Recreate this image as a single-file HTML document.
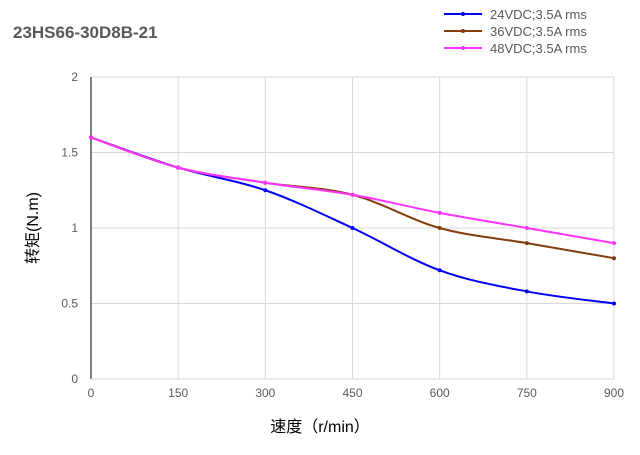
<!DOCTYPE html>
<html><head><meta charset="utf-8"><style>
body{margin:0;background:#fff;}
svg text{font-family:"Liberation Sans","Noto Sans CJK SC",sans-serif;}
</style></head><body>
<svg id="c" width="640" height="450" xmlns="http://www.w3.org/2000/svg">
<rect width="640" height="450" fill="#fff"/>
<text x="13" y="38" font-size="17" font-weight="bold" fill="#595959">23HS66-30D8B-21</text>
<g id="grid"></g><g id="series"></g><g id="legend"></g>
<text x="320" y="432" font-size="16" fill="#000" text-anchor="middle">速度（r/min）</text>
<text transform="translate(38,228) rotate(-90)" font-size="16" fill="#000" text-anchor="middle">转矩(N.m)</text>
</svg>
<script>
const categories=[0,150,300,450,600,750,900];
const yTicks=[0,0.5,1,1.5,2];
const yTickLabels=["0","0.5","1","1.5","2"];
const s24=[1.6,1.4,1.25,1.0,0.72,0.58,0.5];
const s36=[1.6,1.4,1.3,1.22,1.0,0.9,0.8];
const s48=[1.6,1.4,1.3,1.22,1.1,1.0,0.9];
const seriesNames=["24VDC;3.5A rms","36VDC;3.5A rms","48VDC;3.5A rms"];
const NS="http://www.w3.org/2000/svg";
const X0=91,X1=614,Y0=379,Y1=77;
const xs=v=>X0+(v/900)*(X1-X0);
const ys=v=>Y0-(v/2)*(Y0-Y1);
function mk(t,a,p){const e=document.createElementNS(NS,t);for(const k in a)e.setAttribute(k,a[k]);p.appendChild(e);return e;}
const g=document.getElementById('grid');
yTicks.forEach((t,i)=>{
 const l=mk('line',{x1:X0,x2:X1,y1:ys(t),y2:ys(t),stroke:'#d9d9d9','stroke-width':1},g);
 
 
 const tx=mk('text',{x:78,y:ys(t)+4,'font-size':12,fill:'#595959','text-anchor':'end'},g);
 tx.textContent=yTickLabels[i];
 
 
});
categories.forEach(c=>{
 if(c>0){const l=mk('line',{x1:xs(c),x2:xs(c),y1:Y0,y2:Y1,stroke:'#d9d9d9','stroke-width':1},g);
 
 }
 const tx=mk('text',{x:xs(c),y:397,'font-size':12,fill:'#595959','text-anchor':'middle'},g);
 tx.textContent=String(c);
 
 
});
const ax=mk('line',{x1:X0,x2:X0,y1:Y0,y2:Y1,stroke:'#000','stroke-width':1},g);


const ax2=mk('line',{x1:X0,x2:X1,y1:Y0,y2:Y0,stroke:'#d9d9d9','stroke-width':1},g);


function smooth(p){let d=`M${p[0][0]},${p[0][1]}`;const t=0.17;
 for(let i=0;i<p.length-1;i++){const a=p[i-1]||p[i],b=p[i],c=p[i+1],e=p[i+2]||c;
 d+=` C${b[0]+(c[0]-a[0])*t},${b[1]+(c[1]-a[1])*t} ${c[0]-(e[0]-b[0])*t},${c[1]-(e[1]-b[1])*t} ${c[0]},${c[1]}`;}return d;}
const sg=document.getElementById('series'),lg=document.getElementById('legend');
const colors=['#0000ff','#843c0c','#ff33ff'];
[s24,s36,s48].forEach((s,k)=>{
 const pts=s.map((v,i)=>[xs(categories[i]),ys(v)]);
 const p=mk('path',{d:smooth(pts),fill:'none',stroke:colors[k],'stroke-width':2},sg);
 
 
 pts.forEach(q=>{const m=mk('circle',{cx:q[0],cy:q[1],r:2,fill:colors[k]},sg);
  
  });
 const y=14+k*17;
 const ll=mk('line',{x1:444,x2:482,y1:y,y2:y,stroke:colors[k],'stroke-width':2},lg);
 
 
 const lc=mk('circle',{cx:463,cy:y,r:2,fill:colors[k]},lg);
 
 
 const lt=mk('text',{x:490,y:y+5,'font-size':13,fill:'#595959'},lg);
 lt.textContent=seriesNames[k];
 
 
});
</script>
</body></html>
